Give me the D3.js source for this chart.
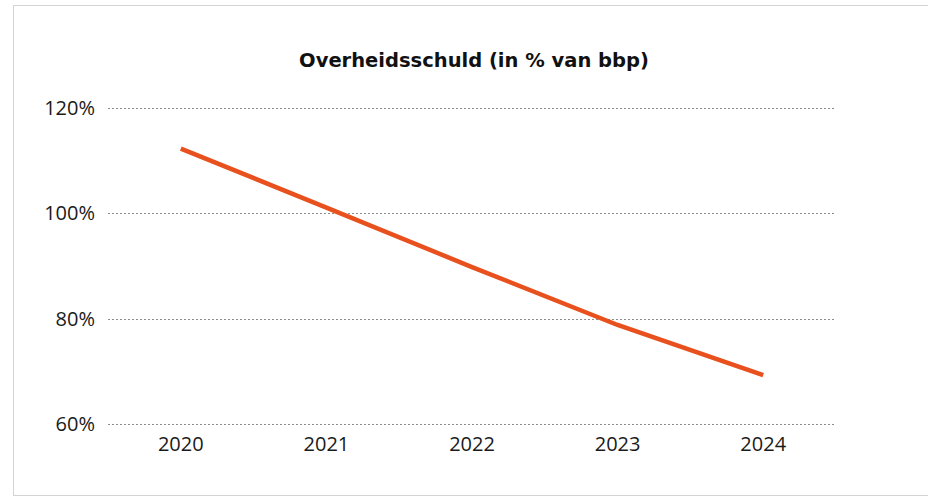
<!DOCTYPE html>
<html>
<head>
<meta charset="utf-8">
<script src="https://cdn.jsdelivr.net/npm/d3@7"></script>
<style>
  body { margin: 0; background: #fff; }
  svg { display: block; }
</style>
</head>
<body>
<svg id="chart" width="928" height="496"></svg>
<script>
const years = ['2020', '2021', '2022', '2023', '2024'];
const debt = [112.3, 101.1, 89.8, 78.8, 69.3];
const yTicks = [60, 80, 100, 120];

const svg = d3.select('#chart');
const margin = { top: 108, right: 92, bottom: 72, left: 108 };
const width = 928;
const height = 496;

// light frame like the original screenshot
svg.append('rect')
  .attr('x', 13.5).attr('y', 5.5)
  .attr('width', 940).attr('height', 490)
  .attr('fill', 'none')
  .attr('stroke', '#d4d4d4');

const x = d3.scaleBand()
  .domain(years)
  .range([margin.left, width - margin.right]);

const y = d3.scaleLinear()
  .domain([60, 120])
  .range([height - margin.bottom, margin.top]);

// gridlines
svg.append('g')
  .selectAll('line')
  .data(yTicks)
  .join('line')
    .attr('x1', margin.left)
    .attr('x2', width - margin.right)
    .attr('y1', d => Math.round(y(d)) + 0.5)
    .attr('y2', d => Math.round(y(d)) + 0.5)
    .attr('stroke', '#8c8c8c')
    .attr('stroke-dasharray', '2,2');

const yAxis = g => g
  .attr('transform', `translate(${margin.left},0)`)
  .call(d3.axisLeft(y).tickValues(yTicks).tickFormat(d => d + '%').tickSize(0).tickPadding(13))
  .call(g => g.select('.domain').remove());

const xAxis = g => g
  .attr('transform', `translate(0,${height - margin.bottom})`)
  .call(d3.axisBottom(x).tickSize(0).tickPadding(13))
  .call(g => g.select('.domain').remove());

svg.append('g').call(yAxis);
svg.append('g').call(xAxis);

svg.selectAll('.tick text')
  .attr('font-family', '"Open Sans", sans-serif')
  .attr('font-size', 20)
  .attr('fill', '#1a1a1a');

const line = d3.line()
  .x((d, i) => x(years[i]) + x.bandwidth() / 2)
  .y(d => y(d));

svg.append('path')
  .datum(debt)
  .attr('d', line)
  .attr('fill', 'none')
  .attr('stroke', '#e8501e')
  .attr('stroke-width', 4.5);

svg.append('text')
  .attr('x', 474)
  .attr('y', 67)
  .attr('text-anchor', 'middle')
  .attr('font-family', 'DejaVu Sans, Verdana, sans-serif')
  .attr('font-weight', 'bold')
  .attr('font-size', 19.5)
  .attr('fill', '#111')
  .text('Overheidsschuld (in % van bbp)');
</script>
</body>
</html>
